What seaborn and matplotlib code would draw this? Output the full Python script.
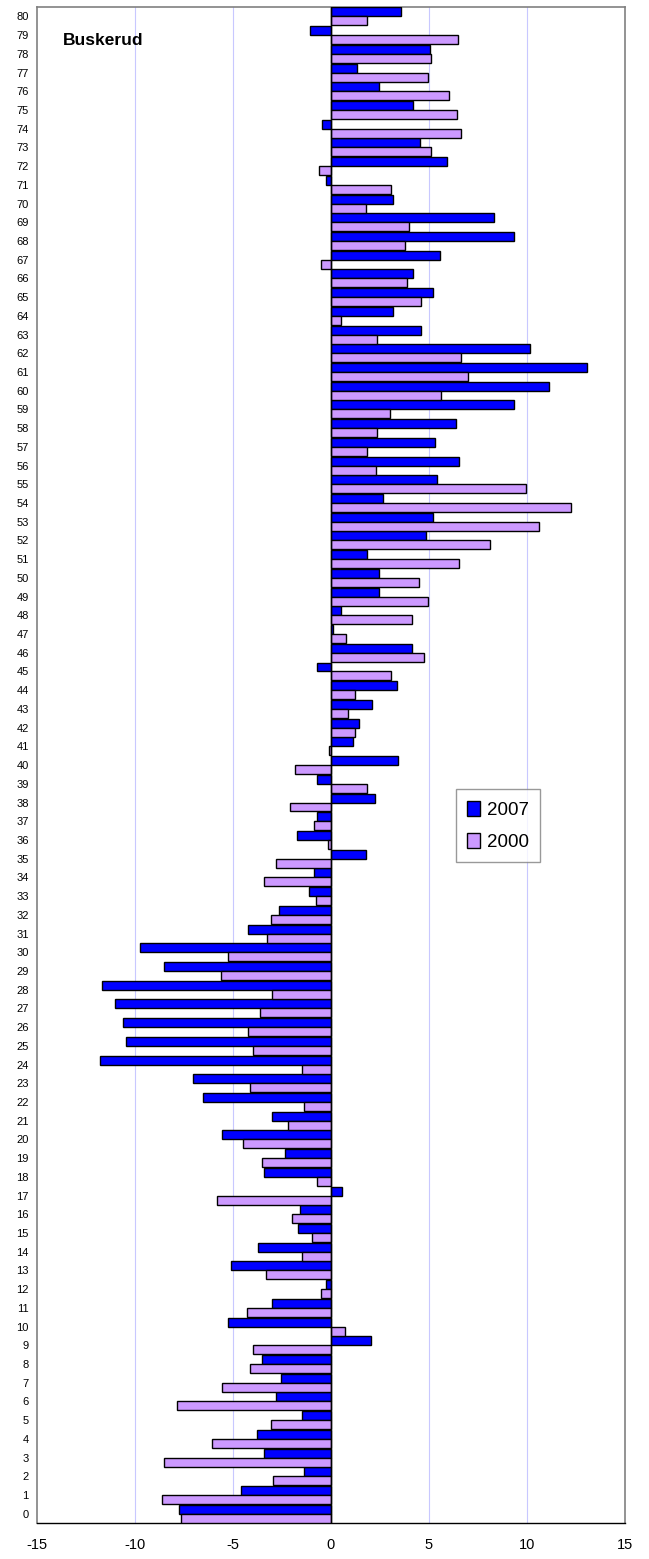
import matplotlib
matplotlib.use('Agg')

import seaborn as sns
import matplotlib.pyplot as plt
import pandas as pd

# values per category 0..80
categories = list(range(81))
years = ['2007', '2000']

v2007 = [-7.75, -4.58, -1.39, -3.44, -3.78, -1.48, -2.81, -2.56, -3.53, 2.05,
         -5.28, -3.00, -0.25, -5.09, -3.70, -1.67, -1.56, 0.55, -3.44, -2.37,
         -5.56, -3.00, -6.53, -7.06, -11.81, -10.48, -10.59, -11.01, -11.70, -8.54,
         -9.76, -4.23, -2.64, -1.14, -0.87, 1.77, -1.75, -0.70, 2.22, -0.70,
         3.44, 1.14, 1.42, 2.11, 3.36, -0.70, 4.14, 0.10, 0.53, 2.47,
         2.47, 1.86, 4.86, 5.20, 2.66, 5.39, 6.53, 5.30, 6.36, 9.36,
         11.11, 13.06, 10.16, 4.61, 3.17, 5.22, 4.16, 5.56, 9.36, 8.30,
         3.17, -0.25, 5.92, 4.52, -0.44, 4.16, 2.47, 1.33, 5.03, -1.06,
         3.55]

v2000 = [-7.65, -8.62, -2.98, -8.54, -6.08, -3.08, -7.84, -5.56, -4.14, -3.97,
         0.70, -4.31, -0.51, -3.34, -1.48, -0.95, -2.01, -5.81, -0.70, -3.53,
         -4.48, -2.20, -1.39, -4.14, -1.48, -3.97, -4.23, -3.61, -3.00, -5.62,
         -5.28, -3.25, -3.08, -0.78, -3.44, -2.81, -0.17, -0.87, -2.09, 1.86,
         -1.84, -0.10, 1.23, 0.87, 1.23, 3.08, 4.75, 0.78, 4.14, 4.94,
         4.50, 6.51, 8.11, 10.59, 12.25, 9.97, 2.28, 1.86, 2.37, 3.00,
         5.62, 6.97, 6.61, 2.37, 0.53, 4.58, 3.89, -0.51, 3.78, 3.97,
         1.77, 3.08, -0.59, 5.11, 6.61, 6.44, 6.00, 4.94, 5.11, 6.50,
         1.86]

xticks = [-15, -10, -5, 0, 5, 10, 15]

if __name__ == "__main__":
    sns.set_style('white')
    plt.rcParams['font.family'] = ['Liberation Sans', 'DejaVu Sans']
    plt.rcParams['text.color'] = 'black'
    plt.rcParams['xtick.color'] = 'black'
    plt.rcParams['ytick.color'] = 'black'

    df = pd.DataFrame({
        'kat': [str(c) for c in categories] * 2,
        'verdi': v2007 + v2000,
        'aar': [years[0]] * len(v2007) + [years[1]] * len(v2000),
    })
    order = [str(c) for c in reversed(categories)]

    fig, ax = plt.subplots(figsize=(6.49, 15.59), dpi=100)
    fig.subplots_adjust(left=0.057, right=0.963, top=0.9955, bottom=0.023)

    sns.barplot(data=df, x='verdi', y='kat', hue='aar', order=order,
                hue_order=years, orient='h', width=0.96,
                palette={'2007': '#0000FF', '2000': '#CC99FF'},
                edgecolor='black', linewidth=1.0, saturation=1,
                ax=ax, zorder=3)

    ax.set_xlim(-15, 15)
    ax.set_xticks(xticks)
    ax.set_xticklabels([str(t) for t in xticks], fontsize=10.5)
    ax.tick_params(axis='x', direction='out', length=5, width=1,
                   color='black', pad=6)
    ax.tick_params(axis='y', length=0, labelsize=8, pad=6)
    ax.set_xlabel('')
    ax.set_ylabel('')

    # light lavender gridlines
    for g in [-10, -5, 5, 10]:
        ax.axvline(g, color='#C8C8FF', linewidth=0.8, zorder=1)
    ax.axvline(0, color='black', linewidth=1.0, zorder=4)

    for side in ['left', 'right', 'top']:
        ax.spines[side].set_color('#808080')
        ax.spines[side].set_linewidth(1.2)
    ax.spines['bottom'].set_color('black')
    ax.spines['bottom'].set_linewidth(1.0)

    ax.text(0.044, 0.978, 'Buskerud', transform=ax.transAxes,
            fontsize=12.5, fontweight='bold', va='center', ha='left')

    handles, labels = ax.get_legend_handles_labels()
    leg = ax.legend(handles, labels, loc='upper left',
                    bbox_to_anchor=(0.712, 0.484), fontsize=13.5,
                    frameon=True, fancybox=False, handlelength=0.7,
                    handleheight=0.9, handletextpad=0.35,
                    borderpad=0.6, labelspacing=0.75, borderaxespad=0)
    leg.get_frame().set_edgecolor('#808080')
    leg.get_frame().set_linewidth(1.0)

    plt.savefig('out.png', dpi=100)
